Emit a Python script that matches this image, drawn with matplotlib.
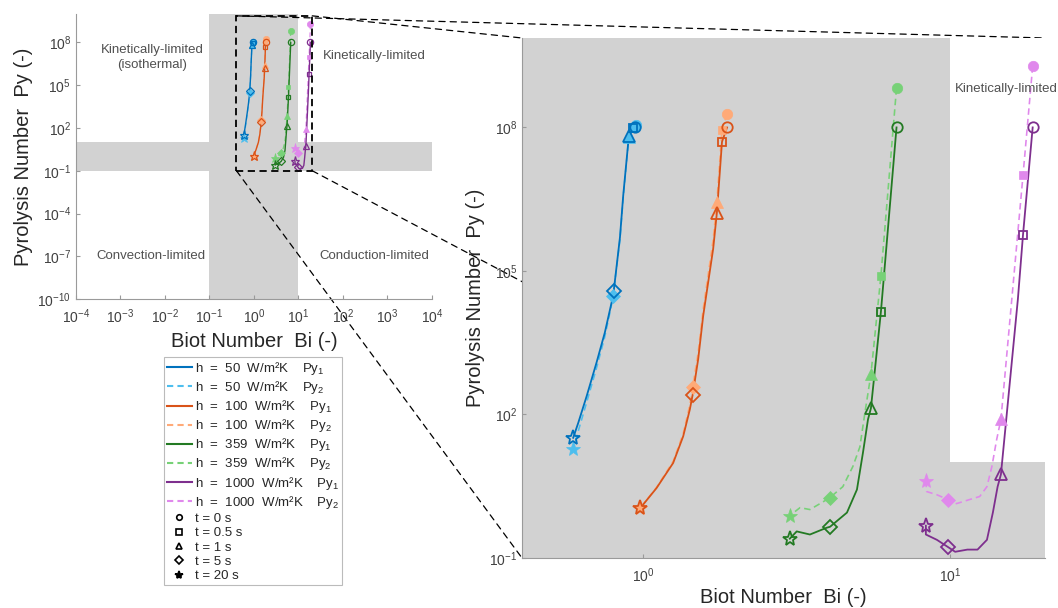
import matplotlib
matplotlib.use('Agg')
import matplotlib.pyplot as plt
from matplotlib.lines import Line2D
from matplotlib.patches import Rectangle, ConnectionPatch
from matplotlib.ticker import NullLocator

plt.rcParams['font.family'] = ['Liberation Sans', 'DejaVu Sans']
plt.rcParams['mathtext.fontset'] = 'custom'
plt.rcParams['mathtext.rm'] = 'Liberation Sans'
plt.rcParams['mathtext.it'] = 'Liberation Sans:italic'
plt.rcParams['mathtext.bf'] = 'Liberation Sans:bold'

# marker times
t_labels = ['t = 0 s', 't = 0.5 s', 't = 1 s', 't = 5 s', 't = 20 s']
t_markers = ['o', 's', '^', 'D', '*']

# h = 50 W/m2K : curves (t = 0 -> 20 s) and marker points (t = 0, 0.5, 1, 5, 20 s)
bi1_c_50 = [0.94, 0.93, 0.90, 0.863, 0.842, 0.804, 0.791, 0.752, 0.706, 0.656, 0.616, 0.593]
py1_c_50 = [1.0e8, 9.5e7, 6.5e7, 3.8e6, 5.0e5, 3.9e4, 2.2e4, 5.2e3, 1.2e3, 242, 67, 32.6]
bi2_c_50 = [0.95, 0.93, 0.90, 0.863, 0.842, 0.80, 0.787, 0.75, 0.705, 0.656, 0.616, 0.593]
py2_c_50 = [1.1e8, 9.5e7, 6.2e7, 3.5e6, 4.5e5, 3.0e4, 1.7e4, 4.0e3, 900, 180, 45, 18.6]
bi1_t_50 = [0.942, 0.93, 0.90, 0.804, 0.593]
py1_t_50 = [1.0e8, 9.5e7, 6.5e7, 3.9e4, 32.6]
bi2_t_50 = [0.95, 0.93, 0.90, 0.80, 0.593]
py2_t_50 = [1.1e8, 9.5e7, 6.2e7, 3.0e4, 18.6]

# h = 100 W/m2K
bi1_c_100 = [1.88, 1.81, 1.742, 1.694, 1.572, 1.514, 1.452, 1.422, 1.353, 1.255, 1.108, 0.98]
py1_c_100 = [1.0e8, 5.0e7, 1.65e6, 2.9e5, 1.16e4, 1.43e3, 254, 127, 35, 9.7, 2.9, 1.1]
bi2_c_100 = [1.88, 1.81, 1.742, 1.694, 1.572, 1.514, 1.452, 1.422, 1.353, 1.255, 1.108, 0.98]
py2_c_100 = [1.9e8, 9.0e7, 2.8e6, 4.5e5, 1.6e4, 2.0e3, 370, 160, 40, 10.5, 3.0, 1.1]
bi1_t_100 = [1.88, 1.81, 1.742, 1.452, 0.98]
py1_t_100 = [1.0e8, 5.0e7, 1.65e6, 254, 1.1]
bi2_t_100 = [1.88, 1.81, 1.742, 1.452, 0.98]
py2_t_100 = [1.9e8, 9.0e7, 2.8e6, 370, 1.1]

# h = 359 W/m2K
bi1_c_359 = [6.7, 5.96, 5.53, 5.41, 5.21, 4.98, 4.62, 4.07, 3.97, 3.50, 3.17, 3.01]
py1_c_359 = [1.0e8, 1.4e4, 135, 79, 16, 2.7, 0.89, 0.45, 0.43, 0.31, 0.36, 0.254]
bi2_c_359 = [6.7, 5.96, 5.53, 5.29, 5.09, 4.83, 4.48, 4.07, 3.97, 3.50, 3.25, 3.01]
py2_c_359 = [6.6e8, 7.9e4, 690, 112, 21, 8.2, 3.1, 1.84, 1.66, 1.03, 1.13, 0.77]
bi1_t_359 = [6.7, 5.96, 5.53, 4.07, 3.01]
py1_t_359 = [1.0e8, 1.4e4, 135, 0.45, 0.254]
bi2_t_359 = [6.7, 5.96, 5.53, 4.07, 3.01]
py2_t_359 = [6.6e8, 7.9e4, 690, 1.84, 0.77]

# h = 1000 W/m2K
bi1_c_1000 = [18.6, 17.3, 16.65, 14.66, 14.3, 13.8, 13.2, 12.3, 11.4, 10.4, 9.85, 9.07, 8.35, 8.35]
py1_c_1000 = [1.0e8, 5.7e5, 2.6e4, 5.6, 3.1, 0.89, 0.24, 0.15, 0.15, 0.135, 0.17, 0.24, 0.31, 0.475]
bi2_c_1000 = [18.6, 17.3, 14.66, 14.2, 13.7, 13.2, 12.5, 11.6, 10.5, 9.85, 9.07, 8.4, 8.35]
py2_c_1000 = [1.9e9, 1.0e7, 79, 30, 8.2, 3.1, 1.93, 1.67, 1.37, 1.67, 2.1, 2.45, 4.0]
bi1_t_1000 = [18.6, 17.3, 14.66, 9.85, 8.35]
py1_t_1000 = [1.0e8, 5.7e5, 5.6, 0.17, 0.475]
bi2_t_1000 = [18.6, 17.3, 14.66, 9.85, 8.35]
py2_t_1000 = [1.9e9, 1.0e7, 79, 1.67, 4.0]

series = [
    (bi1_c_50, py1_c_50, bi1_t_50, py1_t_50, '#0072BD', 1, 'h  =  50  W/m²K    Py$_1$'),
    (bi2_c_50, py2_c_50, bi2_t_50, py2_t_50, '#4DBEEE', 2, 'h  =  50  W/m²K    Py$_2$'),
    (bi1_c_100, py1_c_100, bi1_t_100, py1_t_100, '#D95319', 1, 'h  =  100  W/m²K    Py$_1$'),
    (bi2_c_100, py2_c_100, bi2_t_100, py2_t_100, '#FFAA78', 2, 'h  =  100  W/m²K    Py$_2$'),
    (bi1_c_359, py1_c_359, bi1_t_359, py1_t_359, '#237A23', 1, 'h  =  359  W/m²K    Py$_1$'),
    (bi2_c_359, py2_c_359, bi2_t_359, py2_t_359, '#77D177', 2, 'h  =  359  W/m²K    Py$_2$'),
    (bi1_c_1000, py1_c_1000, bi1_t_1000, py1_t_1000, '#7E2F8E', 1, 'h  =  1000  W/m²K    Py$_1$'),
    (bi2_c_1000, py2_c_1000, bi2_t_1000, py2_t_1000, '#E088EC', 2, 'h  =  1000  W/m²K    Py$_2$'),
]

gray = '#D2D2D2'
txt_gray = '#505050'
spine_gray = '#9a9a9a'

# zoom window shown in the big axes
zx = (0.404, 20.4)
zy = (0.1, 7.4e9)

fig = plt.figure(figsize=(10.58, 6.08), dpi=100)
ax_s = fig.add_axes([0.0718, 0.5082, 0.3365, 0.4688])
ax_b = fig.add_axes([0.4934, 0.0822, 0.4943, 0.8553])
ax_s.set_facecolor('none')
ax_b.set_facecolor('white')

big_ms = {'o': 7.5, 's': 6, '^': 8, 'D': 7, '*': 11}
small_ms = {'o': 4.5, 's': 3.5, '^': 4.5, 'D': 4, '*': 6.5}


def draw(ax, ms, lw):
    for bi_c, py_c, bi_t, py_t, col, k, lab in series:
        if k == 1:
            ax.plot(bi_c, py_c, '-', color=col, lw=lw, zorder=3)
        else:
            ax.plot(bi_c, py_c, color=col, lw=lw * 0.9, ls=(0, (4, 2.5)), zorder=2)
        for i, m in enumerate(t_markers):
            if k == 1:
                ax.plot(bi_t[i], py_t[i], m, ms=ms[m], mfc='none', mec=col,
                        mew=1.3 if ms is big_ms else 0.9, zorder=5)
            else:
                ax.plot(bi_t[i], py_t[i], m, ms=ms[m], mfc=col, mec=col, mew=0.5, zorder=4)


# small overview axes
ax_s.axvspan(0.1, 10, color=gray, lw=0, zorder=0)
ax_s.axhspan(0.1, 10, color=gray, lw=0, zorder=0)
draw(ax_s, small_ms, 1.0)
ax_s.set_xscale('log')
ax_s.set_yscale('log')
ax_s.set_xlim(1e-4, 1e4)
ax_s.set_ylim(1e-10, 1e10)
ax_s.set_xticks([10.0 ** e for e in range(-4, 5)])
ax_s.set_yticks([1e-10, 1e-7, 1e-4, 1e-1, 1e2, 1e5, 1e8])
ax_s.set_xlabel('Biot Number  Bi (-)', fontsize=14.5, color='#262626', labelpad=4)
ax_s.set_ylabel('Pyrolysis Number  Py (-)', fontsize=14.5, color='#262626', labelpad=3)
ax_s.add_patch(Rectangle((zx[0], zy[0]), zx[1] - zx[0], zy[1] - zy[0], fill=False,
                         ec='black', lw=1.3, ls=(0, (4, 2.5)), zorder=6))
ax_s.text(10 ** -2.29, 10 ** 6.95, 'Kinetically-limited\n(isothermal)', ha='center',
          va='center', fontsize=9.5, color=txt_gray, linespacing=1.3)
ax_s.text(10 ** 2.7, 10 ** 7.05, 'Kinetically-limited', ha='center', va='center',
          fontsize=9.5, color=txt_gray)
ax_s.text(10 ** -2.31, 1e-7, 'Convection-limited', ha='center', va='center',
          fontsize=9.5, color=txt_gray)
ax_s.text(10 ** 2.7, 1e-7, 'Conduction-limited', ha='center', va='center',
          fontsize=9.5, color=txt_gray)

# big zoomed axes
ax_b.axvspan(1e-3, 10, color=gray, lw=0, zorder=0)
ax_b.axhspan(1e-3, 10, color=gray, lw=0, zorder=0)
draw(ax_b, big_ms, 1.3)
ax_b.set_xscale('log')
ax_b.set_yscale('log')
ax_b.set_xlim(*zx)
ax_b.set_ylim(*zy)
ax_b.set_xticks([1, 10])
ax_b.set_yticks([1e-1, 1e2, 1e5, 1e8])
ax_b.set_xlabel('Biot Number  Bi (-)', fontsize=14.5, color='#262626', labelpad=2)
ax_b.set_ylabel('Pyrolysis Number  Py (-)', fontsize=14.5, color='#262626', labelpad=3)
ax_b.text(10.4, 6.5e8, 'Kinetically-limited', ha='left', va='center',
          fontsize=9.5, color=txt_gray, clip_on=False)

for ax in (ax_s, ax_b):
    ax.xaxis.set_minor_locator(NullLocator())
    ax.yaxis.set_minor_locator(NullLocator())
    ax.spines['top'].set_visible(False)
    ax.spines['right'].set_visible(False)
    ax.spines['left'].set_color(spine_gray)
    ax.spines['bottom'].set_color(spine_gray)
    ax.tick_params(direction='in', length=3, color=spine_gray, labelsize=10,
                   labelcolor='#404040')
    ax.tick_params(axis='x', pad=6)

# dashed connectors from the zoom window to the big axes
corners = [((zx[0], zy[1]), (1, 1)), ((zx[1], zy[1]), (0, 1)),
           ((zx[0], zy[0]), (0, 0)), ((zx[1], zy[0]), (1, 0))]
for a, b in corners:
    con = ConnectionPatch(xyA=a, coordsA=ax_s.transData, xyB=b, coordsB=ax_b.transAxes,
                          color='black', lw=0.9, ls=(0, (5, 4)))
    con.set_clip_on(False)
    ax_s.add_artist(con)

# legend
handles = []
labels = []
for bi_c, py_c, bi_t, py_t, col, k, lab in series:
    handles.append(Line2D([], [], color=col, lw=1.5, ls='-' if k == 1 else (0, (3, 2))))
    labels.append(lab)
for m, lab in zip(t_markers, t_labels):
    handles.append(Line2D([], [], ls='none', marker=m, color='black',
                          mfc='black' if m == '*' else 'none',
                          ms=6 if m == '*' else 4, mew=1.2))
    labels.append(lab)
leg = fig.legend(handles, labels, loc='upper left', bbox_to_anchor=(164 / 1058, 1 - 357 / 608),
                 fontsize=9.5, frameon=True, fancybox=False, edgecolor='#aaaaaa',
                 handlelength=1.9, handletextpad=0.25, borderaxespad=0, labelspacing=0.16,
                 borderpad=0.22)
leg.get_frame().set_linewidth(0.8)
for t in leg.get_texts():
    t.set_color('#262626')

fig.savefig('out.png', dpi=100)
